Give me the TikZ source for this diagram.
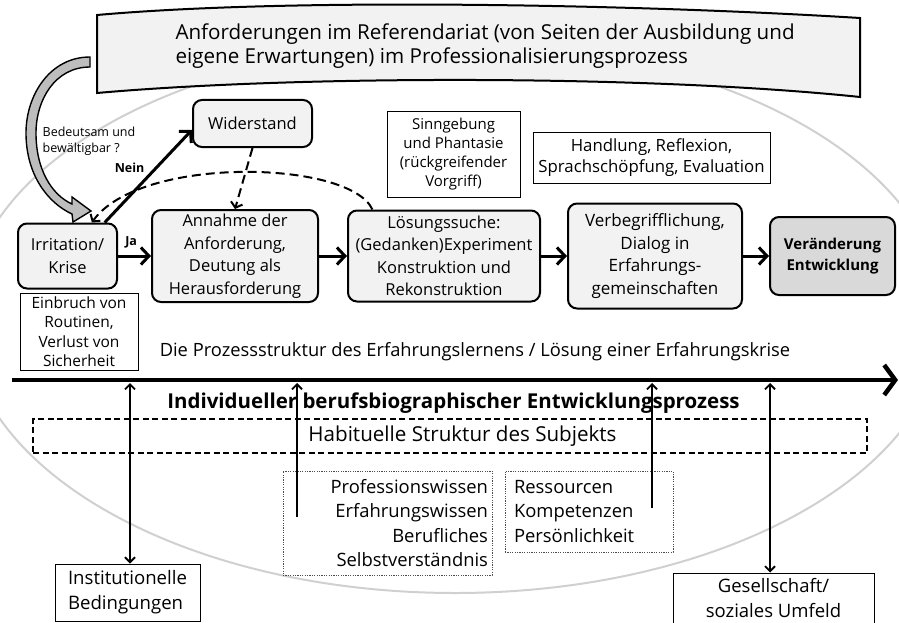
\documentclass[tikz,border=0pt]{standalone}
\usepackage{fontspec}
\setmainfont{Open Sans}
\usetikzlibrary{
    arrows.meta,
    positioning,
    calc
}

\definecolor{boxfill}{HTML}{F2F2F2}
\definecolor{endfill}{HTML}{D9D9D9}
\definecolor{arcgray}{HTML}{D0D0D0}
\definecolor{bendfill}{HTML}{BDBDBD}

\begin{document}
\begin{tikzpicture}[
    x=1pt, y=-1pt,
    stepbox/.style={rectangle, rounded corners=9pt, line width=2pt, draw=black, fill=boxfill, align=center, inner sep=2pt, font=\fontsize{16.5}{22.5}\selectfont},
    infobox/.style={rectangle, line width=1pt, draw=black, fill=white, align=center, inner sep=2pt, font=\fontsize{15}{19}\selectfont},
    dotbox/.style={rectangle, line width=0.7pt, draw=black!70, dash pattern=on 1.2pt off 1.2pt, inner sep=4pt, font=\fontsize{18.4}{24.5}\selectfont},
    flow/.style={-{Straight Barb[length=8pt,width=17pt]}, line width=3pt},
    dflow/.style={-{Straight Barb[length=5pt,width=12pt]}, line width=2pt, dash pattern=on 9pt off 5pt},
    link/.style={{Straight Barb[length=5pt,width=10pt]}-{Straight Barb[length=5pt,width=10pt]}, line width=1.8pt},
    uplink/.style={-{Straight Barb[length=5pt,width=10pt]}, line width=1.8pt}
]
    \useasboundingbox (0,0) rectangle (899,623);

    % Background arc
    \begin{scope}
        \clip (0,0) rectangle (899,623);
        \draw[arcgray, line width=2pt] (455,318) ellipse [x radius=489, y radius=275];
    \end{scope}

    % Banner
    \draw[line width=2pt, fill=boxfill] (97,15) .. controls (300,-3) and (650,5) .. (860,18)
        -- (860,97) .. controls (650,75) and (300,75) .. (97,93) -- cycle;
    \node[anchor=west, align=left, font=\fontsize{20.6}{24}\selectfont] (anf) at (172,46)
        {Anforderungen im Referendariat (von Seiten der Ausbildung und\\eigene Erwartungen) im Professionalisierungsprozess};

    % Bent arrow from the banner
    \draw[line width=1.4pt, fill=bendfill] (90,57) .. controls (50,57) and (26,95) .. (26,133)
        .. controls (26,175) and (48,203) .. (72,214) -- (73,222) -- (91,211) -- (72,197) -- (72,204)
        .. controls (52,195) and (36,170) .. (36,133) .. controls (36,100) and (55,67) .. (90,67) -- cycle;
    \node[align=left, font=\fontsize{12.5}{16}\selectfont] (bed) at (89,141) {Bedeutsam und\\bewältigbar ?};

    % Steps
    \node[stepbox, minimum width=99pt, minimum height=65pt] (irr) at (67.5,256) {Irritation/\\Krise};
    \node[stepbox, minimum width=166pt, minimum height=92pt] (ann) at (235,256) {Annahme der\\Anforderung,\\Deutung als\\Herausforderung};
    \node[stepbox, minimum width=192pt, minimum height=91pt] (loes) at (444,256) {Lösungssuche:\\(Gedanken)Experiment\\Konstruktion und\\Rekonstruktion};
    \node[stepbox, minimum width=174pt, minimum height=105pt, font=\fontsize{17}{22.5}\selectfont] (verb) at (655,256) {Verbegrifflichung,\\Dialog in\\Erfahrungs-\\gemeinschaften};
    \node[stepbox, fill=endfill, minimum width=125pt, minimum height=78pt, font=\bfseries\fontsize{15}{21}\selectfont] (ver) at (832.5,256) {Veränderung\\Entwicklung};
    \node[stepbox, minimum width=119pt, minimum height=47pt] (wid) at (252.5,123.5) {Widerstand};

    % Notes
    \node[infobox, minimum width=118pt, minimum height=77pt, font=\fontsize{15.5}{19.5}\selectfont] (einb) at (79,331.5) {Einbruch von\\Routinen,\\Verlust von\\Sicherheit};
    \node[infobox, minimum width=133pt, minimum height=85pt] (sinn) at (453.5,154.5) {Sinngebung\\und Phantasie\\(rückgreifender\\Vorgriff)};
    \node[infobox, minimum width=237pt, minimum height=50pt, font=\fontsize{16.8}{21}\selectfont] (hand) at (651.5,158) {Handlung, Reflexion,\\Sprachschöpfung, Evaluation};

    % Transitions
    \draw[flow] (irr) -- node[pos=0.4, above=3pt, font=\bfseries\fontsize{12.5}{14}\selectfont] {Ja} (ann);
    \draw[flow] (ann) -- (loes);
    \draw[flow] (loes) -- (verb);
    \draw[flow] (verb) -- (ver);
    \draw[flow] (irr.42) -- node[pos=0.59, left=7pt, font=\bfseries\fontsize{12.5}{14}\selectfont] {Nein} (wid.186);
    \draw[dflow] (wid.south) -- (ann.north);
    \draw[dflow] (loes.147) .. controls (350,160) and (140,155) .. (irr.54);

    % Process axis
    \node[font=\fontsize{18.3}{22}\selectfont] (pstr) at (475,352) {Die Prozessstruktur des Erfahrungslernens / Lösung einer Erfahrungskrise};
    \coordinate (axisL) at (12,380);
    \coordinate (axisR) at (898,380);
    \draw[-{Straight Barb[length=11pt,width=30pt]}, line width=4.5pt] (axisL) -- (axisR);
    \node[font=\bfseries\fontsize{20.5}{22}\selectfont] (indiv) at (453.5,403) {Individueller berufsbiographischer Entwicklungsprozess};

    % Subject
    \node[rectangle, draw=black, line width=1.8pt, dash pattern=on 6pt off 3.5pt, minimum width=834pt, minimum height=34pt] (hab) at (450,436) {};
    \node[font=\fontsize{20.6}{22}\selectfont] (habtxt) at (462.5,436) {Habituelle Struktur des Subjekts};
    \node[dotbox, text width=201pt, minimum height=104pt, align=right] (prof) at (387.5,523) {Professionswissen\\Erfahrungswissen\\Berufliches\\Selbstverständnis};
    \node[dotbox, text width=150pt, inner xsep=9pt, minimum height=81pt, align=left] (res) at (589,511.5) {Ressourcen\\Kompetenzen\\Persönlichkeit};

    % Context
    \node[infobox, minimum width=145pt, minimum height=57pt, align=left, font=\fontsize{18.6}{25}\selectfont] (inst) at (127.5,592.5) {Institutionelle\\Bedingungen};
    \node[infobox, minimum width=201pt, minimum height=50pt, font=\fontsize{18.5}{25}\selectfont] (ges) at (773.5,598) {Gesellschaft/\\soziales Umfeld};

    % Links to the axis
    \coordinate (instTop) at (130,383);
    \coordinate (profTop) at (297,383);
    \coordinate (resTop) at (652,383);
    \coordinate (gesTop) at (770,383);
    \coordinate (profEnd) at (297,517);
    \coordinate (resEnd) at (652,508);
    \draw[link] (instTop) -- (instTop |- inst.north);
    \draw[uplink] (profEnd) -- (profTop);
    \draw[uplink] (resEnd) -- (resTop);
    \draw[link] (gesTop) -- (gesTop |- ges.north);

\end{tikzpicture}
\end{document}
